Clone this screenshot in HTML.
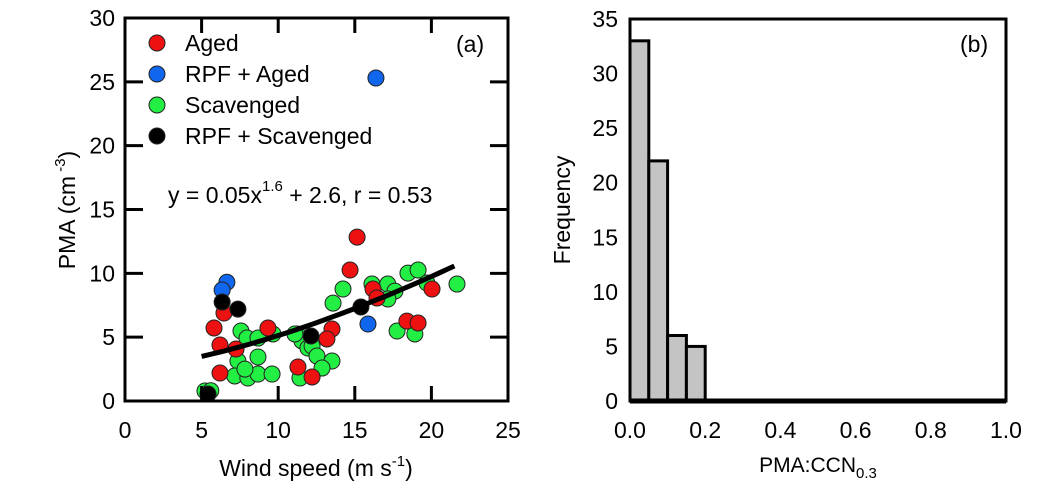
<!DOCTYPE html>
<html><head><meta charset="utf-8"><style>
body{margin:0;background:#fff;width:1038px;height:495px;overflow:hidden;font-family:"Liberation Sans",Arial,sans-serif}
svg text{font-family:"Liberation Sans",Arial,sans-serif;fill:#000}
</style></head><body>
<svg id="chart" width="1038" height="495" viewBox="0 0 1038 495" xmlns="http://www.w3.org/2000/svg"></svg>
<script>
const agedX=[6.46,5.81,9.33,6.2,7.25,6.2,11.29,12.21,15.15,14.69,16.19,16.45,18.4,19.13,20.04,13.51,13.18];
const agedY=[6.89,5.72,5.72,4.39,4.07,2.19,2.66,1.88,12.84,10.26,8.77,8.07,6.26,6.11,8.77,5.64,4.86];
const rpfAgedX=[6.65,6.34,15.86,16.38];
const rpfAgedY=[9.3,8.69,6.03,25.3];
const rpfScavX=[6.34,7.37,5.42,12.14,15.4];
const rpfScavY=[7.75,7.2,0.55,5.09,7.36];
const scavX=[7.57,9.66,7.96,8.68,7.37,8.68,7.16,8.02,8.68,9.6,7.83,5.22,5.6,11.23,11.55,11.94,11.42,14.23,13.58,18.47,19.13,21.67,16.12,17.15,17.62,17.16,17.76,18.92,11.09,12.21,12.53,13.51,12.86,19.71];
const scavY=[5.48,5.25,4.93,4.93,3.13,3.45,1.96,1.8,2.11,2.11,2.5,0.78,0.8,5.25,4.7,4.15,1.8,8.77,7.67,10.02,10.26,9.16,9.16,9.16,8.61,7.99,5.48,5.25,5.25,4.3,3.52,3.13,2.58,9.24];
const fitA=0.08, fitB=1.5, fitC=2.6, fitX0=5, fitX1=21.5;
const xTicksA=[0,5,10,15,20,25];
const yTicksA=[0,5,10,15,20,25,30];
const histEdges=[0,0.05,0.1,0.15,0.2,0.25,0.3,0.35,0.4,0.45,0.5,0.55,0.6,0.65,0.7,0.75,0.8,0.85,0.9,0.95,1.0];
const histCounts=[33,22,6,5,0,0,0,0,0,0,0,0,0,0,0,0,0,0,0,0];
const xTicksB=[0,0.2,0.4,0.6,0.8,1.0];
const yTicksB=[0,5,10,15,20,25,30,35];

const NS="http://www.w3.org/2000/svg";
const svg=document.getElementById('chart');
function mk(tag,attrs,parent){const e=document.createElementNS(NS,tag);for(const k in attrs)e.setAttribute(k,attrs[k]);(parent||svg).appendChild(e);return e;}
const FS=23;
const axL=125,axR=508,axT=18,axB=401;
const xa=v=>axL+(v/25)*(axR-axL);
const ya=v=>axB-(v/30)*(axB-axT);
const bxL=630,bxR=1006,byT=19,byB=401;
const xb=v=>bxL+v*(bxR-bxL);
const yb=v=>byB-(v/35)*(byB-byT);

const gA=mk('g',{});


function drawPts(xs,ys,color,name){
  const g=mk('g',{},gA);
  
  
  xs.forEach((x,i)=>{const c=mk('circle',{cx:xa(x),cy:ya(ys[i]),r:8,fill:color,stroke:'#222','stroke-width':1},g);
    
    });
}
drawPts(scavX,scavY,'#22ee44','scavenged-series');
drawPts(agedX,agedY,'#ee1111','aged-series');
drawPts(rpfAgedX,rpfAgedY,'#1166ee','rpf-aged-series');
drawPts(rpfScavX,rpfScavY,'#000000','rpf-scavenged-series');
let d='';
for(let i=0;i<=40;i++){const x=fitX0+(fitX1-fitX0)*i/40;const y=fitA*Math.pow(x,fitB)+fitC;d+=(i?'L':'M')+xa(x).toFixed(1)+' '+ya(y).toFixed(1);}
const fit=mk('path',{d:d,fill:'none',stroke:'#000','stroke-width':5},gA);


const frA=mk('rect',{x:axL,y:axT,width:axR-axL,height:axB-axT,fill:'none',stroke:'#000','stroke-width':3});


xTicksA.forEach(v=>{
  mk('line',{x1:xa(v),x2:xa(v),y1:axB,y2:axB-15,stroke:'#000','stroke-width':3});
  mk('line',{x1:xa(v),x2:xa(v),y1:axT,y2:axT+15,stroke:'#000','stroke-width':3});
  const t=mk('text',{x:xa(v),y:axB+37,'text-anchor':'middle','font-size':FS});t.textContent=v;
  
  
});
yTicksA.forEach(v=>{
  mk('line',{x1:axL,x2:axL+18,y1:ya(v),y2:ya(v),stroke:'#000','stroke-width':3});
  mk('line',{x1:axR,x2:axR-18,y1:ya(v),y2:ya(v),stroke:'#000','stroke-width':3});
  const t=mk('text',{x:axL-10,y:ya(v)+8,'text-anchor':'end','font-size':FS});t.textContent=v;
  
  
});
const legItems=[['Aged','#ee1111'],['RPF + Aged','#1166ee'],['Scavenged','#22ee44'],['RPF + Scavenged','#000']];
legItems.forEach((it,i)=>{const yy=43+i*31;
  const c=mk('circle',{cx:157,cy:yy,r:8,fill:it[1],stroke:'#222','stroke-width':1});
  
  
  const t=mk('text',{x:185,y:yy+8,'font-size':FS});t.textContent=it[0];
  
  
});
svg.insertAdjacentHTML('beforeend',
 '<text x="456" y="52" font-size="23">(a)</text>'+
 '<text x="168" y="203" font-size="23">y = 0.05x<tspan dy="-12" font-size="15">1.6</tspan><tspan dy="12"> + 2.6, r = 0.53</tspan></text>'+
 '<text x="316" y="476" text-anchor="middle" font-size="23">Wind speed (m s<tspan dy="-10" font-size="15">-1</tspan><tspan dy="10">)</tspan></text>'+
 '<text transform="translate(75,210) rotate(-90)" text-anchor="middle" font-size="23">PMA (cm<tspan dy="-10" font-size="15"> -3</tspan><tspan dy="10">)</tspan></text>');

const gB=mk('g',{});


histCounts.forEach((c,i)=>{
  const x0=xb(histEdges[i]),x1=xb(histEdges[i+1]);
  const r=mk('rect',{x:x0,y:yb(c),width:x1-x0,height:byB-yb(c),fill:'#c4c4c4',stroke:'#000','stroke-width':3},gB);
  
  
});
const frB=mk('rect',{x:bxL,y:byT,width:bxR-bxL,height:byB-byT,fill:'none',stroke:'#000','stroke-width':3});


mk('line',{x1:bxL,x2:bxR,y1:byB,y2:byB,stroke:'#000','stroke-width':5});
xTicksB.forEach(v=>{
  const t=mk('text',{x:xb(v),y:byB+37,'text-anchor':'middle','font-size':FS});t.textContent=v.toFixed(1);
  
  
});
yTicksB.forEach(v=>{
  const t=mk('text',{x:bxL-12,y:yb(v)+8,'text-anchor':'end','font-size':FS});t.textContent=v;
  
  
});
svg.insertAdjacentHTML('beforeend',
 '<text x="960" y="52" font-size="23">(b)</text>'+
 '<text x="818" y="472" text-anchor="middle" font-size="21">PMA:CCN<tspan dy="6" font-size="15">0.3</tspan></text>'+
 '<text transform="translate(570,210) rotate(-90)" text-anchor="middle" font-size="23">Frequency</text>');
</script>
</body></html>
